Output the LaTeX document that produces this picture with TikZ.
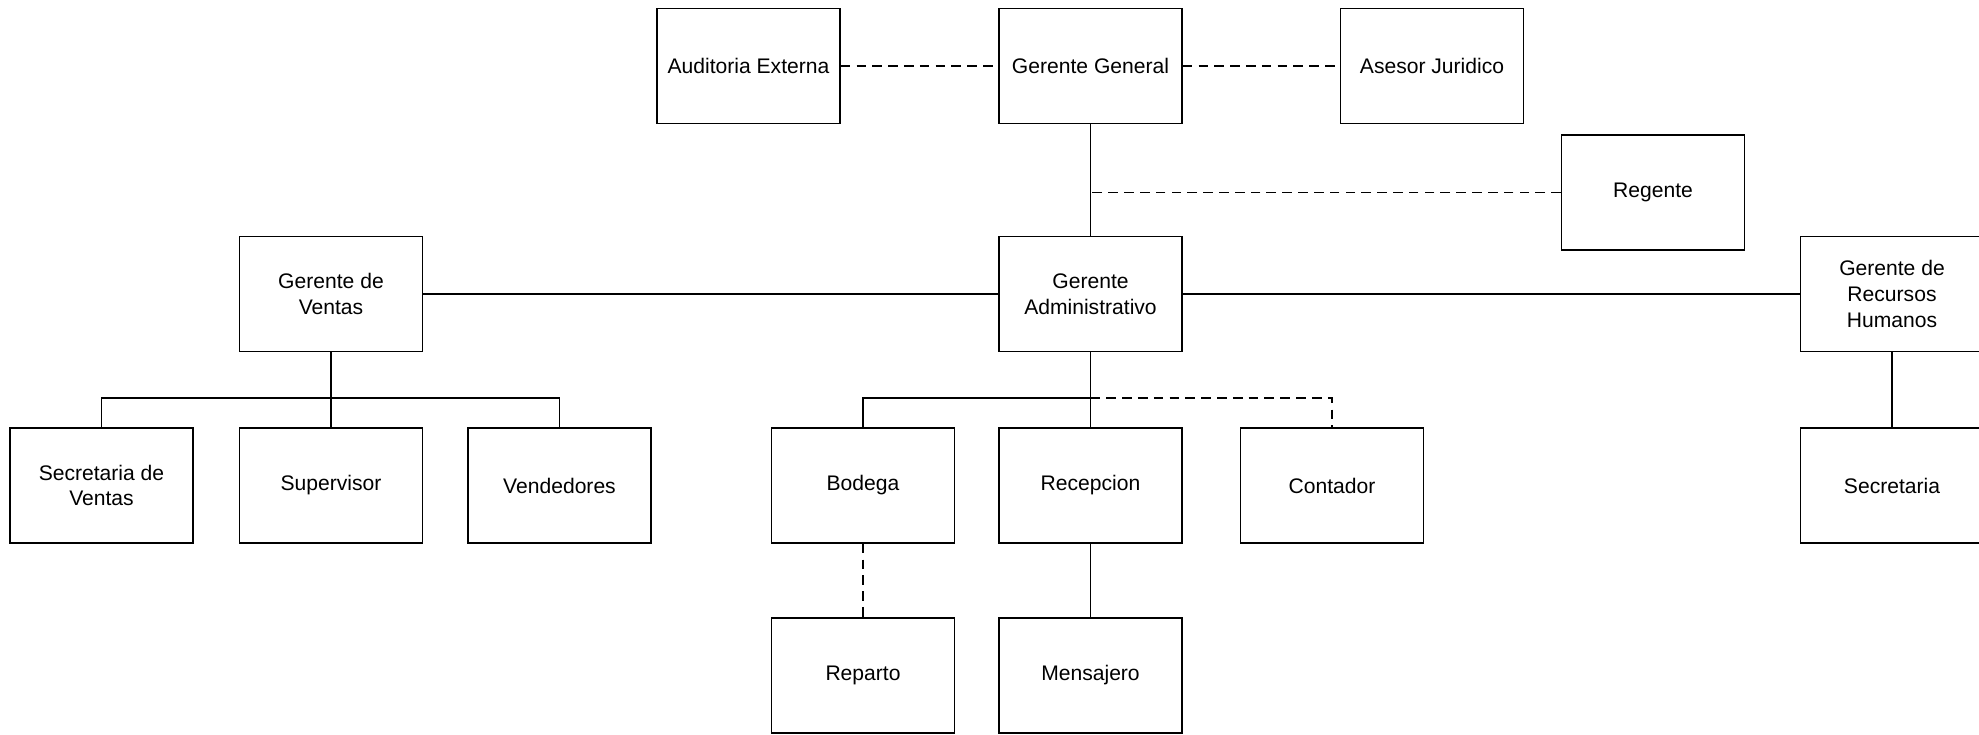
\documentclass[tikz,border=0pt]{standalone}
\usepackage{fontspec}
\setmainfont{Liberation Sans}
\usetikzlibrary{positioning}

\tikzset{
    cargo/.style={draw, line width=0.8pt, minimum width=3.66cm, minimum height=2.3cm,
        align=center, inner sep=2pt, font=\fontsize{12}{14.6}\selectfont},
    linea/.style={line width=0.8pt},
    staff/.style={line width=0.8pt, dash pattern=on 5.5pt off 3.5pt}
}

\begin{document}
\begin{tikzpicture}
    \useasboundingbox (0,0) rectangle (39.58,14.68);

    % Direccion
    \node[cargo] (auditoria) at (14.97,13.36) {Auditoria Externa};
    \node[cargo] (general) at (21.81,13.36) {Gerente General};
    \node[cargo] (asesor) at (28.64,13.36) {Asesor Juridico};
    \node[cargo] (regente) at (33.06,10.83) {Regente};

    % Gerencias
    \node[cargo] (ventas) at (6.62,8.80) {Gerente de\\Ventas};
    \node[cargo] (admin) at (21.81,8.80) {Gerente\\Administrativo};
    \node[cargo] (rrhh) at (37.84,8.80) {Gerente de\\Recursos\\Humanos};

    % Departamentos
    \node[cargo] (secventas) at (2.03,4.97) {Secretaria de\\Ventas};
    \node[cargo] (supervisor) at (6.62,4.97) {Supervisor};
    \node[cargo] (vendedores) at (11.19,4.97) {Vendedores};
    \node[cargo] (bodega) at (17.26,4.97) {Bodega};
    \node[cargo] (recepcion) at (21.81,4.97) {Recepcion};
    \node[cargo] (contador) at (26.64,4.97) {Contador};
    \node[cargo] (secretaria) at (37.84,4.97) {Secretaria};
    \node[cargo] (reparto) at (17.26,1.17) {Reparto};
    \node[cargo] (mensajero) at (21.81,1.17) {Mensajero};

    % Buses
    \coordinate (busV) at (6.62,6.72);
    \coordinate (busA) at (21.81,6.72);

    % Staff
    \draw[staff] (auditoria) -- (general);
    \draw[staff] (general) -- (asesor);
    \draw[staff] (regente.west) -- (regente.west -| general.south);

    % Linea de mando
    \draw[linea] (general) -- (admin);
    \draw[linea] (ventas) -- (admin);
    \draw[linea] (admin) -- (rrhh);
    \draw[linea] (ventas) -- (supervisor);
    \draw[linea] (secventas.north) |- (busV) -| (vendedores.north);
    \draw[linea] (admin) -- (recepcion);
    \draw[linea] (bodega.north) |- (busA);
    \draw[staff] (busA) -| (contador.north);
    \draw[staff] (bodega) -- (reparto);
    \draw[linea] (recepcion) -- (mensajero);
    \draw[linea] (rrhh) -- (secretaria);
\end{tikzpicture}
\end{document}
